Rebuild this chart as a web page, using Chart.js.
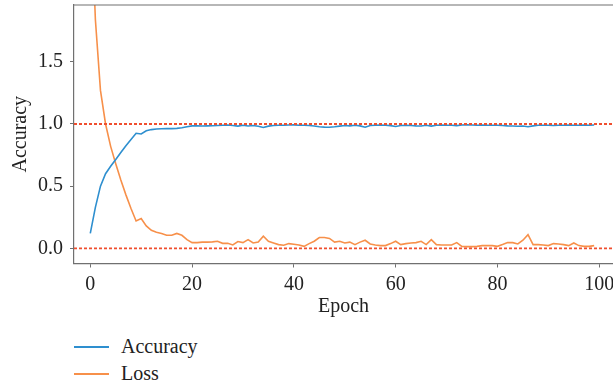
<!DOCTYPE html>
<html>
<head>
<meta charset="utf-8">
<script src="https://cdn.jsdelivr.net/npm/chart.js@4.4.1/dist/chart.umd.min.js"></script>
<style>
    body { margin: 0; background: #fff; overflow: hidden; }
    #wrap { position: relative; width: 613px; height: 387px; }
    #legend { position: absolute; left: 74px; top: 333px; font-family: "Liberation Serif", serif; font-size: 20px; color: #222; }
    #legend div { height: 27px; line-height: 27px; display: flex; align-items: center; }
    #legend span.swatch { display: inline-block; width: 35px; height: 0; border-top: 2px solid; margin-right: 12px; }
</style>
</head>
<body>
<div id="wrap">
    <canvas id="lossChart" width="613" height="320"></canvas>
    <div id="legend"></div>
</div>
<script>
// values, one per epoch
const accuracy = [
    0.12, 0.33, 0.50, 0.60, 0.66, 0.715, 0.77, 0.825, 0.875, 0.925,
    0.92, 0.945, 0.955, 0.96, 0.962, 0.963, 0.963, 0.965, 0.97, 0.978,
    0.985, 0.985, 0.984, 0.985, 0.986, 0.988, 0.99, 0.992, 0.988, 0.983,
    0.99, 0.984, 0.988, 0.982, 0.972, 0.983, 0.988, 0.99, 0.99, 0.992,
    0.993, 0.99, 0.99, 0.988, 0.984, 0.978, 0.975, 0.974, 0.978, 0.983,
    0.988, 0.985, 0.99, 0.985, 0.974, 0.988, 0.99, 0.992, 0.99, 0.987,
    0.98, 0.988, 0.99, 0.988, 0.985, 0.984, 0.99, 0.983, 0.99, 0.992,
    0.99, 0.99, 0.987, 0.992, 0.993, 0.992, 0.99, 0.992, 0.99, 0.99,
    0.99, 0.988, 0.985, 0.984, 0.982, 0.984, 0.978, 0.985, 0.99, 0.99,
    0.99, 0.988, 0.99, 0.99, 0.992, 0.99, 0.99, 0.992, 0.99, 0.992
];
const loss = [
    2.9, 1.84, 1.27, 1.0, 0.82, 0.68, 0.55, 0.43, 0.32, 0.22,
    0.24, 0.18, 0.145, 0.13, 0.12, 0.105, 0.105, 0.12, 0.105, 0.07,
    0.046, 0.046, 0.05, 0.05, 0.052, 0.057, 0.04, 0.04, 0.027, 0.055,
    0.046, 0.07, 0.043, 0.05, 0.097, 0.057, 0.043, 0.03, 0.025, 0.038,
    0.033, 0.027, 0.016, 0.038, 0.057, 0.087, 0.087, 0.08, 0.05, 0.057,
    0.043, 0.05, 0.03, 0.05, 0.065, 0.035, 0.027, 0.022, 0.022, 0.038,
    0.057, 0.03, 0.038, 0.043, 0.046, 0.057, 0.03, 0.07, 0.03, 0.027,
    0.027, 0.027, 0.046, 0.016, 0.014, 0.014, 0.016, 0.022, 0.022, 0.022,
    0.016, 0.03, 0.046, 0.046, 0.035, 0.065, 0.11, 0.03, 0.03, 0.027,
    0.022, 0.038, 0.035, 0.03, 0.022, 0.043, 0.022, 0.016, 0.016, 0.022
];
const epochs = accuracy.map((v, i) => i);
const refLevels = [0, 1.0];            // red dotted guide lines
const xTicks = [0, 20, 40, 60, 80, 100];
const yTicks = [0, 0.5, 1.0, 1.5];

const xMin = -3.2, xMax = 102.7;
const yMin = -0.122, yMax = 1.957;

const FONT = { family: '"Liberation Serif", serif', size: 20 };
const AXIS = '#707070';

function toPoints(values) {
    return epochs.map((e, i) => ({ x: e, y: values[i] }));
}

// red lines first so they are drawn on top
const guideSets = refLevels.map(level => ({
    data: [{ x: xMin, y: level }, { x: xMax, y: level }],
    borderColor: '#f04e2e',
    borderWidth: 1.8,
    borderDash: [3, 2],
    pointRadius: 0
}));

// top spine, Chart.js has no border there
const topSpine = {
    id: 'topSpine',
    afterDraw(chart) {
        const { ctx, chartArea } = chart;
        ctx.save();
        ctx.strokeStyle = AXIS;
        ctx.lineWidth = 1.2;
        ctx.beginPath();
        ctx.moveTo(chartArea.left, chartArea.top);
        ctx.lineTo(chartArea.right + 5, chartArea.top);
        ctx.stroke();
        ctx.restore();
    }
};

const ctx = document.getElementById('lossChart').getContext('2d');
const lossChart = new Chart(ctx, {
    type: 'line',
    data: {
        datasets: [
            ...guideSets,
            { label: 'Accuracy', data: toPoints(accuracy), borderColor: '#2e8fcf', borderWidth: 1.6, pointRadius: 0, tension: 0 },
            { label: 'Loss', data: toPoints(loss), borderColor: '#f7904a', borderWidth: 1.6, pointRadius: 0, tension: 0 }
        ]
    },
    options: {
        responsive: false,
        animation: false,
        layout: { padding: { top: 5, left: 0, right: 0, bottom: 0 }, autoPadding: false },
        plugins: { legend: { display: false }, tooltip: { enabled: false } },
        scales: {
            x: {
                type: 'linear',
                min: xMin,
                max: xMax,
                afterBuildTicks: scale => { scale.ticks = xTicks.map(v => ({ value: v })); },
                afterFit: scale => { scale.height = 56.5; scale.paddingLeft = 0; scale.paddingRight = 0; },
                ticks: { font: FONT, color: '#222', padding: 5, maxRotation: 0, callback: v => String(v) },
                grid: { drawOnChartArea: false, tickLength: 4, tickColor: AXIS },
                border: { color: AXIS, width: 1.2 },
                title: { display: true, text: 'Epoch', font: FONT, color: '#222', padding: { top: 0, bottom: 1 } }
            },
            y: {
                min: yMin,
                max: yMax,
                afterBuildTicks: scale => { scale.ticks = yTicks.map(v => ({ value: v })); },
                afterFit: scale => { scale.width = 74; scale.paddingTop = 0; scale.paddingBottom = 0; },
                ticks: { font: FONT, color: '#222', padding: 7, callback: v => v.toFixed(1) },
                grid: { drawOnChartArea: false, tickLength: 4, tickColor: AXIS },
                border: { color: AXIS, width: 1.2 },
                title: { display: true, text: 'Accuracy', font: FONT, color: '#222', padding: { top: 9, bottom: 0 } }
            }
        }
    },
    plugins: [topSpine]
});

// legend below the chart, one item per line
const legend = document.getElementById('legend');
lossChart.data.datasets.filter(ds => ds.label).forEach(ds => {
    const row = document.createElement('div');
    const swatch = document.createElement('span');
    swatch.className = 'swatch';
    swatch.style.borderTopColor = ds.borderColor;
    row.appendChild(swatch);
    row.appendChild(document.createTextNode(ds.label));
    legend.appendChild(row);
});
</script>
</body>
</html>
